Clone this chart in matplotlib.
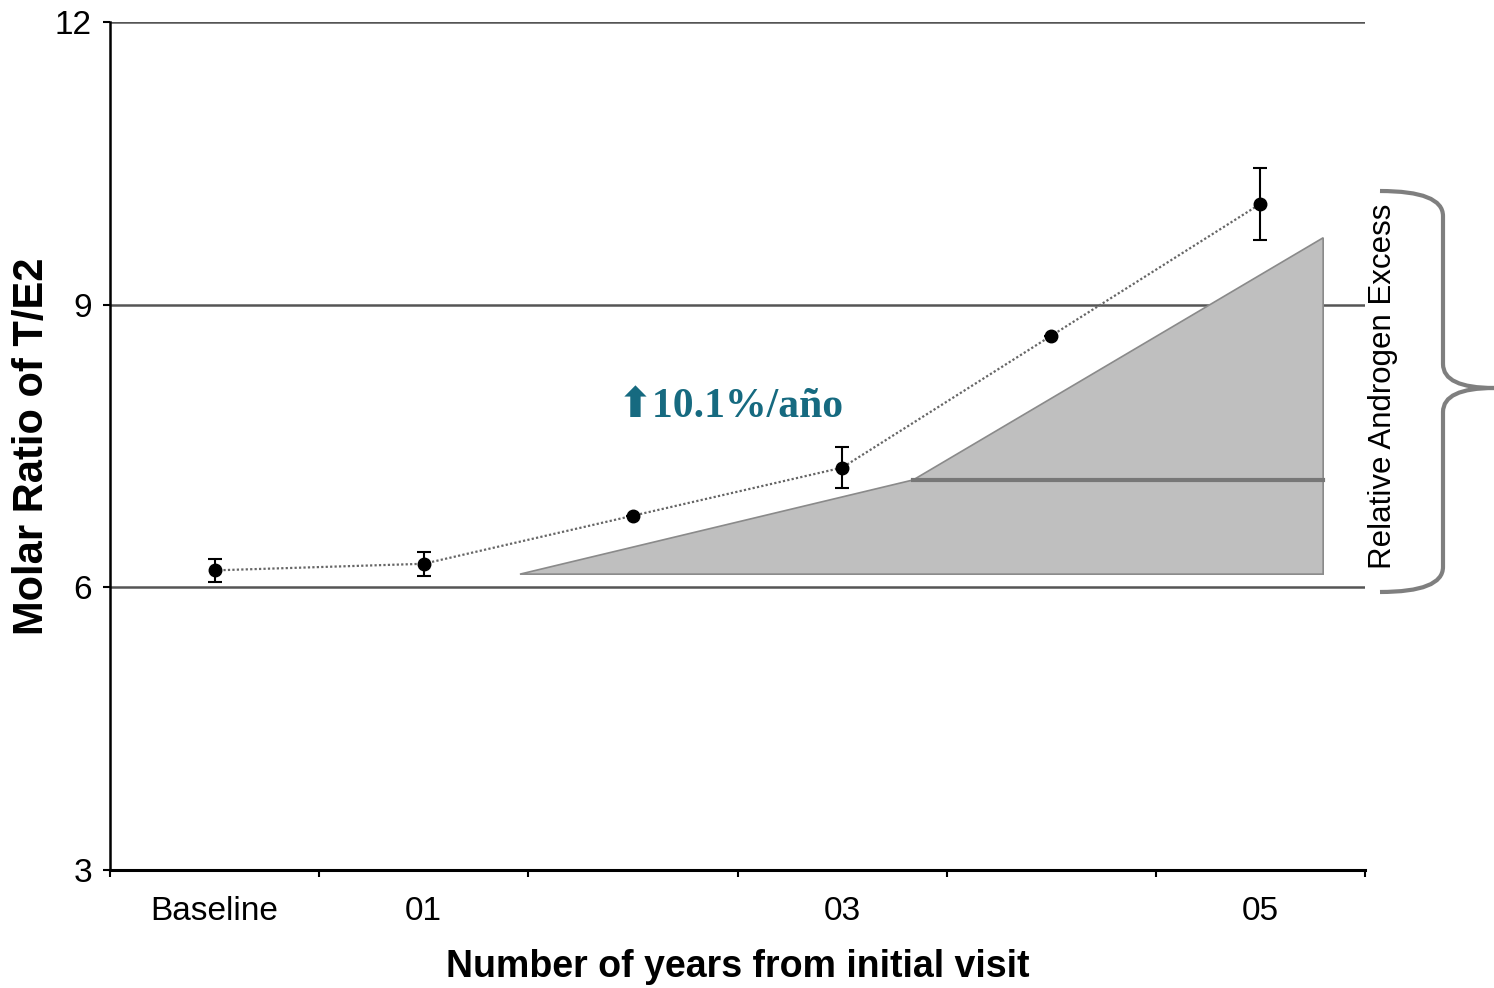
import numpy as np
import matplotlib.pyplot as plt
from matplotlib.path import Path
from matplotlib.patches import PathPatch

# mean T/E2 molar ratio per visit with SE
visits = ['Baseline', '01', '02', '03', '04', '05']
visit_labels = ['Baseline', '01', '', '03', '', '05']
ratio = [6.18, 6.25, 6.76, 7.27, 8.67, 10.07]
ratio_err = [0.12, 0.13, 0.0, 0.22, 0.0, 0.38]

# shaded region of relative androgen excess
shade_x = [1.46, 3.34, 5.30, 5.30]
shade_y = [6.14, 7.14, 9.71, 6.14]
split_x = [3.34, 5.30]
split_y = [7.14, 7.14]

yticks = [3, 6, 9, 12]
gridlines = [6, 9, 12]

plt.rcParams['font.family'] = ['Liberation Sans', 'DejaVu Sans']

W, H = 1494, 988
fig = plt.figure(figsize=(W / 100, H / 100), dpi=100)
ax = fig.add_axes([110 / W, 1 - 870 / H, 1255 / W, 848 / H])

x = np.arange(len(visits))

for g in gridlines:
    ax.axhline(g, color='#555555', lw=1.8, zorder=1)

ax.fill(shade_x, shade_y, facecolor='#bfbfbf', edgecolor='#8a8a8a', lw=1.2, zorder=2)
ax.plot(split_x, split_y, color='#777777', lw=3, zorder=2.5)

ax.plot(x, ratio, linestyle=(0, (1, 1)), color='#666666', lw=1.6, zorder=3)
ax.errorbar(x, ratio, yerr=ratio_err, fmt='o', color='black', markersize=9,
            ecolor='black', elinewidth=1.5, capsize=5, capthick=1.5, zorder=4)

ax.set_xlim(-0.5, 5.5)
ax.set_ylim(3, 12)
ax.set_yticks(yticks)
ax.set_xticks(x)
ax.set_xticklabels(visit_labels)
ax.set_xticks(np.arange(-0.5, 6, 1), minor=True)
ax.tick_params(axis='x', which='major', length=0, pad=19, labelsize=24)
ax.tick_params(axis='x', which='minor', length=5, width=1.5, direction='out')
ax.tick_params(axis='y', length=5, width=1.5, pad=8, labelsize=24)

for s in ['top', 'right']:
    ax.spines[s].set_visible(False)
ax.spines['bottom'].set_linewidth(2.2)
ax.spines['left'].set_linewidth(1.8)

ax.set_xlabel('Number of years from initial visit', fontsize=27, fontweight='bold')
ax.xaxis.set_label_coords(0.5, -0.093)
ax.set_ylabel('Molar Ratio of T/E2', fontsize=30, fontweight='bold')
ax.yaxis.set_label_coords(-0.046, 0.5)

ax.text(2.47, 7.91, '\u2b0610.1%/año', color='#166a80', fontsize=30,
        fontweight='bold', family=['Liberation Serif', 'DejaVu Sans'],
        ha='center', va='center', zorder=5)

# curly brace to the right of the plot
def px(u, v):
    return (u / W, 1 - v / H)

verts = [px(1380, 191), px(1443, 191), px(1443, 216), px(1443, 364),
         px(1443, 388), px(1494, 388), px(1443, 388), px(1443, 412),
         px(1443, 567), px(1443, 592), px(1380, 592)]
codes = [Path.MOVETO, Path.CURVE3, Path.CURVE3, Path.LINETO,
         Path.CURVE3, Path.CURVE3, Path.CURVE3, Path.CURVE3,
         Path.LINETO, Path.CURVE3, Path.CURVE3]
brace = PathPatch(Path(verts, codes), transform=fig.transFigure,
                  facecolor='none', edgecolor='#7f7f7f', lw=3, clip_on=False)
fig.patches.append(brace)

fig.text(1383 / W, 1 - 386 / H, 'Relative Androgen Excess', rotation=90,
         fontsize=22.5, ha='center', va='center')

fig.savefig('out.png', dpi=100)
